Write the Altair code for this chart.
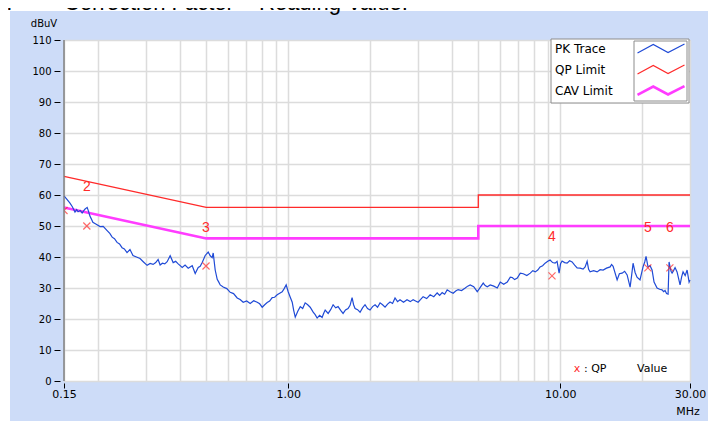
import altair as alt
import pandas as pd

# ---------------- data ----------------
pk_freq = [
    0.150, 0.153, 0.1578, 0.161, 0.1646, 0.167, 0.169, 0.172, 0.1749, 0.179,
    0.1825, 0.1845, 0.1868, 0.189, 0.1915, 0.197, 0.2035, 0.209, 0.2161, 0.221,
    0.2255, 0.230, 0.2350, 0.240, 0.2452, 0.250, 0.2557, 0.2622, 0.2689, 0.277,
    0.2855, 0.294, 0.3031, 0.311, 0.3189, 0.326, 0.3327, 0.3384, 0.345, 0.352,
    0.3591, 0.3684, 0.3779, 0.386, 0.3943, 0.401, 0.4079, 0.418, 0.4292, 0.4440,
    0.4554, 0.4671, 0.475, 0.4832, 0.4956, 0.5083, 0.5170, 0.5258, 0.5303, 0.5393,
    0.5486, 0.5560, 0.5627, 0.5772, 0.595, 0.6124, 0.630, 0.6497, 0.666, 0.6836,
    0.704, 0.7253, 0.747, 0.7696, 0.786, 0.8028, 0.820, 0.8375, 0.855, 0.8736,
    0.892, 0.9114, 0.931, 0.9508, 0.967, 0.9835, 1.0003, 1.018, 1.035, 1.048,
    1.062, 1.085, 1.108, 1.131, 1.155, 1.180, 1.205, 1.236, 1.257, 1.278,
    1.305, 1.333, 1.350, 1.368, 1.403, 1.433, 1.463, 1.495, 1.526, 1.560,
    1.592, 1.625, 1.660, 1.689, 1.718, 1.740, 1.762, 1.800, 1.838, 1.877,
    1.917, 1.958, 2.000, 2.043, 2.087, 2.131, 2.177, 2.224, 2.271, 2.320,
    2.369, 2.420, 2.471, 2.524, 2.577, 2.655, 2.735, 2.810, 2.880, 2.940,
    3.004, 3.070, 3.134, 3.230, 3.326, 3.430, 3.530, 3.605, 3.683, 3.760,
    3.842, 3.940, 4.042, 4.130, 4.216, 4.340, 4.476, 4.570, 4.669, 4.810,
    4.955, 5.083, 5.213, 5.300, 5.393, 5.532, 5.700, 5.870, 6.021, 6.200,
    6.389, 6.554, 6.666, 6.800, 6.954, 7.133, 7.316, 7.540, 7.763, 7.930,
    8.100, 8.270, 8.435, 8.620, 8.800, 9.000, 9.180, 9.380, 9.576, 9.740,
    9.908, 10.03, 10.16, 10.38, 10.60, 10.83, 11.06, 11.30, 11.54, 11.84,
    12.14, 12.35, 12.56, 12.72, 12.88, 13.27, 13.67, 14.02, 14.38, 14.80,
    15.26, 15.45, 15.65, 16.19, 16.50, 16.89, 17.25, 17.62, 18.07, 18.30,
    18.53, 18.85, 19.16, 19.65, 20.16, 20.45, 20.68, 21.03, 21.39, 21.76,
    22.13, 22.70, 23.20, 23.68, 24.00, 24.29, 24.60, 24.92, 25.13, 25.34,
    25.56, 25.78, 26.10, 26.44, 26.89, 27.58, 27.95, 28.29, 28.80, 29.27,
    29.77, 30.00,
]
pk_level = [
    59.7, 58.8, 57.4, 56.2, 54.5, 55.3, 54.6, 55.0, 54.2, 55.4,
    56.0, 54.8, 53.2, 52.3, 51.2, 50.6, 49.8, 49.9, 48.5, 47.6,
    46.4, 45.9, 44.7, 44.2, 43.0, 42.6, 41.4, 42.4, 40.5, 40.0,
    39.5, 38.4, 37.3, 37.9, 37.6, 38.2, 39.2, 37.4, 38.0, 37.8,
    38.5, 40.4, 38.2, 38.6, 37.8, 37.2, 36.6, 37.4, 36.4, 37.2,
    34.7, 36.6, 37.0, 38.2, 40.5, 41.6, 40.4, 39.8, 41.3, 35.8,
    32.8, 31.9, 31.0, 30.3, 29.8, 28.6, 28.2, 26.8, 26.3, 25.4,
    25.8, 25.0, 25.9, 25.4, 24.9, 23.8, 24.6, 25.3, 25.8, 26.9,
    27.0, 27.8, 28.3, 28.8, 29.8, 31.0, 28.8, 27.0, 25.4, 22.8,
    20.6, 22.5, 24.0, 23.4, 25.2, 24.6, 23.8, 22.2, 21.4, 20.3,
    21.2, 20.5, 21.8, 22.9, 21.8, 23.0, 24.6, 23.6, 24.0, 22.8,
    21.8, 22.9, 23.4, 24.4, 26.9, 24.6, 23.4, 23.0, 22.2, 23.6,
    24.6, 23.4, 22.9, 24.0, 24.6, 23.8, 25.2, 24.6, 23.8, 24.8,
    25.5, 25.0, 26.8, 25.6, 26.2, 25.4, 26.2, 25.6, 26.2, 25.8,
    25.4, 26.3, 27.2, 26.6, 27.8, 27.2, 28.4, 27.6, 28.5, 28.0,
    29.4, 28.8, 28.3, 29.0, 29.5, 29.2, 30.0, 30.6, 31.0, 30.4,
    28.8, 30.2, 31.6, 30.8, 30.4, 31.0, 30.6, 30.0, 31.9, 31.2,
    31.9, 33.5, 33.4, 32.7, 33.2, 34.8, 34.6, 34.0, 34.8, 35.6,
    35.2, 35.8, 36.8, 37.2, 38.0, 38.6, 39.0, 38.2, 38.0, 38.6,
    34.8, 37.8, 38.7, 38.2, 38.0, 38.8, 38.4, 37.4, 36.5, 36.4,
    36.1, 36.8, 38.6, 36.0, 35.2, 35.6, 35.2, 35.9, 35.8, 36.4,
    36.8, 37.6, 37.0, 32.6, 34.6, 34.8, 35.4, 34.2, 30.3, 34.0,
    38.0, 35.0, 33.5, 32.6, 36.8, 38.4, 40.2, 36.8, 37.2, 35.8,
    31.9, 30.0, 29.6, 29.4, 28.8, 29.2, 28.2, 28.0, 38.4, 36.8,
    35.4, 34.8, 35.6, 36.6, 35.2, 31.0, 33.6, 35.2, 34.0, 35.8,
    31.9, 32.6,
]

qp_limit_freq = [0.15, 0.5, 5.0, 5.0, 30.0]
qp_limit_level = [66, 56, 56, 60, 60]
cav_limit_freq = [0.15, 0.5, 5.0, 5.0, 30.0]
cav_limit_level = [56, 46, 46, 50, 50]

qp_freq = [0.150, 0.182, 0.499, 9.33, 21.0, 25.3]
qp_value = [55.0, 50.0, 37.1, 33.9, 36.5, 36.5]

label_ids = ["2", "3", "4", "5", "6"]
label_freq = [0.182, 0.499, 9.33, 21.0, 25.3]
label_level = [62.5, 49.5, 46.5, 49.5, 49.5]

grid_freq = [0.15, 0.2, 0.3, 0.4, 0.5, 0.6, 0.7, 0.8, 0.9, 1, 2, 3, 4, 5, 6, 7, 8, 9, 10, 20, 30]
y_ticks = [0, 10, 20, 30, 40, 50, 60, 70, 80, 90, 100, 110]

legend_names = ["PK Trace", "QP Limit", "CAV Limit"]

# ---------------- frames ----------------
pk_df = pd.DataFrame({"f": pk_freq, "v": pk_level, "o": list(range(len(pk_freq)))})
qp_lim_df = pd.DataFrame({"f": qp_limit_freq, "v": qp_limit_level, "o": list(range(5))})
cav_lim_df = pd.DataFrame({"f": cav_limit_freq, "v": cav_limit_level, "o": list(range(5))})
qp_df = pd.DataFrame({"f": qp_freq, "v": qp_value})
lab_df = pd.DataFrame({"f": label_freq, "v": label_level, "t": label_ids})
one = pd.DataFrame({"k": [0]})

FONT = "DejaVu Sans"
BLUE = "#1f4ad6"
RED = "#ff2a2a"
MAG = "#ff3cff"
BG = "#cddcf8"
W, H = 626, 341

xs = alt.Scale(type="log", domain=[0.15, 30], nice=False)
ys = alt.Scale(domain=[0, 110], nice=False)

major_test = "datum.value == 0.15 || datum.value == 1 || datum.value == 10 || datum.value == 30"
x_axis = alt.Axis(
    values=grid_freq, title=None, grid=True, gridColor="#dcdcdc", gridWidth=1.5,
    domain=False, ticks=True, tickSize=5, tickColor="black", tickWidth=1,
    tickOpacity={"condition": {"test": major_test, "value": 1}, "value": 0},
    labelExpr="datum.value == 0.15 ? '0.15' : datum.value == 1 ? '1.00' : datum.value == 10 ? '10.00' : datum.value == 30 ? '30.00' : ''",
    labelFont=FONT, labelFontSize=11, labelColor="black", labelPadding=0,
    labelOverlap=False, labelFlush=False, offset=2,
)
y_axis = alt.Axis(
    values=y_ticks, title=None, grid=True, gridColor="#dcdcdc", gridWidth=1.5,
    domain=False, tickSize=6, tickColor="black", tickWidth=1,
    labelFont=FONT, labelFontSize=10, labelColor="black", labelPadding=3, offset=4,
)

X = alt.X("f:Q", scale=xs, axis=x_axis)
Y = alt.Y("v:Q", scale=ys, axis=y_axis)

pk = alt.Chart(pk_df).mark_line(color=BLUE, strokeWidth=1.2).encode(x=X, y=Y, order="o:Q")
qp_lim = alt.Chart(qp_lim_df).mark_line(color=RED, strokeWidth=1.3).encode(x=X, y=Y, order="o:Q")
cav_lim = alt.Chart(cav_lim_df).mark_line(color=MAG, strokeWidth=2.6).encode(x=X, y=Y, order="o:Q")
marks = alt.Chart(qp_df).mark_point(
    shape="M-1,-1L1,1M-1,1L1,-1", filled=False, size=50, strokeWidth=1.2, color=RED, clip=True
).encode(x=X, y=Y)
labels = alt.Chart(lab_df).mark_text(
    font="Liberation Sans", fontSize=14, color=RED, align="center", baseline="middle"
).encode(x=X, y=Y, text="t:N")


def rect(x, x2, y, y2, fill, stroke=None, sw=1):
    kw = dict(fill=fill)
    if stroke:
        kw.update(stroke=stroke, strokeWidth=sw)
    return alt.Chart(one).mark_rect(**kw).encode(
        x=alt.value(x), x2=alt.value(x2), y=alt.value(y), y2=alt.value(y2))


def text(t, x, y, size=10, color="black", align="left", font=FONT):
    return alt.Chart(one).mark_text(
        text=t, font=font, fontSize=size, color=color, align=align, baseline="middle"
    ).encode(x=alt.value(x), y=alt.value(y))


zig = "M-1,0.19L-0.33,-0.17L0.3,0.17L1,-0.19"


def zigzag(y, color, sw):
    return alt.Chart(one).mark_point(
        shape=zig, filled=False, size=47 * 47, strokeWidth=sw, color=color, opacity=1
    ).encode(x=alt.value(597), y=alt.value(y))


top_strip = rect(-56, W + 18, -32, -29, "white")
left_strip = rect(-56, -54, -32, H + 40, "white")
title1 = alt.Chart(one).mark_text(
    text="3.", font="Liberation Sans", fontSize=22, color="black", align="left", baseline="alphabetic"
).encode(x=alt.value(-70), y=alt.value(-30))
title2 = alt.Chart(one).mark_text(
    text="Correction Factor + Reading Value.", font="Liberation Sans", fontSize=22,
    color="black", align="left", baseline="alphabetic"
).encode(x=alt.value(0), y=alt.value(-30))

left_line = alt.Chart(one).mark_rule(color="#808080", strokeWidth=1.5).encode(
    x=alt.value(0), y=alt.value(0), y2=alt.value(H))

leg_box = rect(487, 625, -1, 63, "white", "#8c8c8c", 1)
leg_inner = rect(570, 623, 1, 61, "white", "#8c8c8c", 1)
leg_texts = [text(legend_names[0], 491, 9, 12), text(legend_names[1], 491, 30, 12),
             text(legend_names[2], 491, 51, 12)]
zz = [zigzag(8.5, BLUE, 1.2), zigzag(29.5, RED, 1.2), zigzag(50.5, MAG, 2.6)]

dbuv = text("dBuV", -20, -16, 10, align="center")
qp_x = text("x", 513, 329, 11, color=RED, align="center")
qp_t = text(": QP", 520, 329, 11)
qp_v = text("Value", 573, 329, 11)
mhz = text("MHz", 624, 372, 11, align="center")

chart = alt.layer(
    top_strip, left_strip, title1, title2,
    qp_lim, cav_lim, pk, marks, labels, left_line,
    leg_box, leg_inner, *leg_texts, *zz,
    dbuv, qp_x, qp_t, qp_v, mhz,
).properties(
    width=W, height=H,
    padding={"left": 56, "top": 32, "right": 18, "bottom": 40},
    autosize=alt.AutoSizeParams(type="none"),
).configure(background=BG).configure_view(fill="white", stroke="#b8b8b8", strokeWidth=1)

chart.save("out.html", embed_options={"renderer": "svg", "actions": False})
